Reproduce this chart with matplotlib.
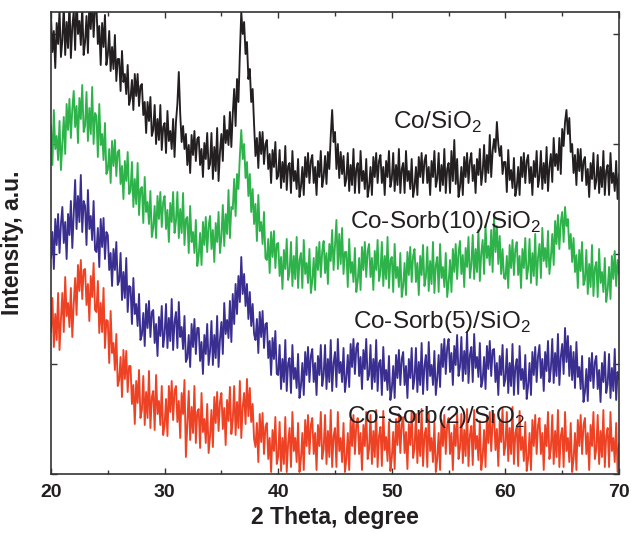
import matplotlib
matplotlib.use("Agg")
import matplotlib.pyplot as plt
import numpy as np

plt.rcParams['font.family'] = ['Liberation Sans', 'DejaVu Sans']
plt.rcParams['mathtext.fontset'] = 'custom'
plt.rcParams['mathtext.rm'] = 'Liberation Sans'

# 2 theta grid, 0.125 degree steps from 20 to 70 (8 readings per degree)
two_theta = np.arange(20, 70.001, 0.125)

# intensities (arbitrary units, stacked offsets), one row per degree
co_sio2 = [
    458, 422, 443, 406, 451, 430, 464, 417,  # 20
    434, 468, 419, 452, 426, 473, 416, 447,
    463, 424, 479, 440, 453, 429, 468, 419,
    432, 458, 421, 471, 445, 476, 437, 466,
    468, 430, 448, 409, 451, 427, 459, 409,
    419, 443, 403, 427, 405, 439, 393, 415,  # 25
    415, 383, 423, 392, 400, 380, 409, 369,
    376, 394, 364, 400, 378, 400, 368, 388,
    390, 359, 372, 341, 372, 353, 377, 338,
    344, 369, 330, 355, 334, 369, 324, 347,
    351, 321, 363, 333, 343, 325, 355, 317,  # 30
    352, 370, 402, 360, 332, 348, 325, 340,
    309, 329, 301, 339, 319, 343, 313, 335,
    337, 309, 325, 297, 331, 315, 341, 305,
    310, 341, 295, 327, 303, 346, 293, 322,
    340, 313, 358, 331, 344, 329, 362, 327,  # 35
    360, 385, 348, 395, 372, 420, 462, 440,
    452, 420, 432, 395, 405, 372, 385, 350,
    318, 336, 306, 342, 320, 342, 310, 330,
    334, 305, 320, 291, 324, 307, 332, 295,
    298, 324, 286, 312, 292, 328, 284, 308,  # 40
    311, 281, 323, 293, 303, 285, 315, 277,
    287, 307, 279, 317, 297, 321, 291, 313,
    319, 291, 307, 279, 313, 297, 323, 287,
    297, 318, 290, 322, 305, 338, 364, 332,
    342, 305, 330, 296, 322, 300, 318, 288,  # 45
    295, 321, 283, 309, 289, 325, 281, 305,
    311, 281, 323, 293, 303, 285, 315, 277,
    287, 307, 279, 317, 297, 321, 291, 313,
    319, 291, 307, 279, 313, 297, 323, 287,
    295, 321, 283, 309, 289, 325, 281, 305,  # 50
    311, 281, 323, 293, 303, 285, 315, 277,
    287, 307, 279, 317, 297, 321, 291, 313,
    319, 291, 307, 279, 313, 297, 323, 287,
    295, 321, 283, 309, 289, 325, 281, 305,
    311, 281, 323, 293, 334, 290, 315, 277,  # 55
    287, 307, 279, 317, 297, 321, 291, 313,
    321, 293, 309, 281, 315, 299, 325, 289,
    302, 329, 292, 319, 301, 339, 297, 323,
    335, 322, 352, 330, 318, 328, 300, 312,
    312, 282, 324, 294, 304, 286, 316, 278,  # 60
    287, 307, 279, 317, 297, 321, 291, 313,
    319, 291, 307, 279, 313, 297, 323, 287,
    297, 323, 285, 311, 291, 327, 283, 307,
    320, 292, 336, 308, 320, 304, 336, 300,
    345, 328, 352, 364, 340, 356, 322, 330,  # 65
    301, 319, 289, 325, 303, 325, 293, 313,
    317, 289, 305, 277, 311, 295, 321, 285,
    293, 319, 281, 307, 287, 323, 279, 303,
    309, 279, 321, 291, 301, 283, 313, 275,
    300,                                     # 70
]
co_sorb10 = [
    348, 309, 364, 325, 338, 314, 353, 304,  # 20
    331, 357, 320, 370, 344, 375, 336, 365,
    383, 347, 368, 331, 376, 355, 389, 342,
    348, 382, 333, 366, 340, 387, 330, 361,
    358, 317, 370, 329, 340, 314, 351, 300,
    304, 325, 291, 333, 308, 334, 298, 322,  # 25
    324, 290, 308, 275, 313, 293, 322, 280,
    283, 312, 267, 295, 270, 311, 259, 285,
    287, 251, 297, 262, 272, 250, 283, 237,
    246, 268, 236, 278, 255, 282, 247, 272,
    278, 245, 264, 232, 271, 252, 282, 241,  # 30
    253, 282, 236, 265, 241, 281, 229, 255,
    257, 221, 268, 232, 242, 221, 254, 208,
    218, 241, 209, 252, 229, 257, 222, 248,
    258, 225, 244, 212, 251, 232, 262, 221,
    237, 269, 228, 260, 240, 284, 236, 267,  # 35
    265, 295, 258, 300, 285, 318, 344, 315,
    330, 296, 312, 278, 300, 262, 285, 250,
    270, 233, 279, 243, 252, 230, 262, 216,
    214, 235, 201, 242, 217, 243, 206, 230,
    231, 198, 217, 185, 224, 205, 235, 194,  # 40
    202, 232, 188, 218, 195, 237, 186, 214,
    221, 186, 234, 200, 211, 191, 225, 181,
    193, 216, 184, 227, 204, 232, 197, 223,
    233, 201, 221, 190, 230, 213, 244, 204,
    229, 254, 205, 240, 210, 246, 200, 222,  # 45
    222, 187, 235, 201, 212, 192, 226, 182,
    193, 216, 184, 227, 204, 232, 197, 223,
    230, 197, 216, 184, 223, 204, 234, 193,
    202, 232, 188, 218, 195, 237, 186, 214,
    217, 182, 230, 196, 207, 187, 221, 177,  # 50
    188, 211, 179, 222, 199, 227, 192, 218,
    225, 192, 211, 179, 218, 199, 229, 188,
    197, 227, 183, 213, 190, 232, 181, 209,
    217, 182, 230, 196, 207, 187, 221, 177,
    191, 214, 182, 225, 202, 230, 195, 221,  # 55
    233, 200, 219, 187, 226, 207, 237, 196,
    209, 239, 195, 225, 202, 244, 193, 221,
    234, 200, 249, 216, 228, 209, 244, 202,
    257, 222, 248, 210, 238, 200, 225, 196,
    195, 218, 186, 229, 206, 234, 199, 225,  # 60
    232, 199, 218, 186, 225, 206, 236, 195,
    205, 235, 191, 221, 198, 240, 189, 217,
    230, 196, 246, 213, 226, 207, 243, 200,
    216, 240, 209, 253, 230, 259, 225, 252,
    262, 232, 267, 248, 255, 225, 240, 212,  # 65
    236, 202, 219, 186, 224, 203, 232, 189,
    194, 224, 180, 210, 187, 229, 178, 206,
    212, 177, 225, 191, 202, 182, 216, 172,
    184, 207, 175, 218, 195, 223, 188, 214,
    200,                                     # 70
]
co_sorb5 = [
    216, 242, 205, 255, 229, 260, 221, 250,  # 20
    267, 231, 252, 215, 260, 239, 273, 226,
    260, 294, 245, 278, 252, 299, 242, 273,
    268, 229, 284, 245, 258, 234, 273, 224,
    222, 246, 207, 255, 227, 256, 215, 242,
    239, 204, 221, 188, 225, 204, 232, 189,  # 25
    193, 221, 174, 202, 176, 216, 162, 188,
    187, 150, 196, 160, 170, 148, 180, 134,
    139, 161, 128, 170, 146, 173, 137, 162,
    164, 131, 150, 118, 157, 138, 168, 127,
    140, 170, 126, 156, 133, 175, 124, 152,  # 30
    162, 126, 172, 137, 147, 125, 158, 112,
    116, 139, 107, 150, 127, 155, 120, 146,
    146, 113, 132, 100, 139, 120, 150, 109,
    123, 153, 109, 139, 116, 158, 107, 135,
    152, 120, 171, 140, 154, 136, 173, 132,  # 35
    180, 150, 190, 160, 198, 172, 217, 180,
    200, 168, 190, 155, 182, 148, 170, 140,
    134, 155, 121, 162, 137, 163, 126, 150,
    151, 116, 133, 99, 136, 115, 143, 100,
    99, 129, 85, 115, 92, 134, 83, 111,      # 40
    116, 81, 129, 95, 106, 86, 120, 76,
    88, 111, 79, 122, 99, 127, 92, 118,
    125, 92, 111, 79, 118, 99, 129, 88,
    99, 129, 85, 115, 92, 134, 83, 111,
    122, 87, 135, 101, 112, 92, 126, 82,     # 45
    96, 119, 87, 130, 107, 135, 100, 126,
    131, 98, 117, 85, 124, 105, 135, 94,
    99, 129, 85, 115, 92, 134, 83, 111,
    114, 79, 127, 93, 104, 84, 118, 74,
    85, 108, 76, 119, 96, 124, 89, 115,      # 50
    122, 89, 108, 76, 115, 96, 126, 85,
    96, 126, 82, 112, 89, 131, 80, 108,
    119, 84, 132, 98, 109, 89, 123, 79,
    96, 119, 87, 130, 107, 135, 100, 126,
    135, 102, 121, 89, 128, 109, 139, 98,    # 55
    107, 137, 93, 123, 100, 142, 91, 119,
    127, 92, 140, 106, 117, 97, 131, 87,
    94, 117, 85, 128, 105, 133, 98, 124,
    125, 92, 111, 79, 118, 99, 129, 88,
    95, 125, 81, 111, 88, 130, 79, 107,      # 60
    115, 80, 128, 94, 105, 85, 119, 75,
    88, 111, 79, 122, 99, 127, 92, 118,
    129, 96, 115, 83, 122, 103, 133, 92,
    105, 135, 91, 121, 98, 140, 89, 117,
    130, 100, 146, 112, 138, 98, 128, 94,    # 65
    122, 86, 132, 97, 107, 85, 118, 72,
    82, 105, 73, 116, 93, 121, 86, 112,
    118, 85, 104, 72, 111, 92, 122, 81,
    90, 120, 76, 106, 83, 125, 74, 102,
    95,                                      # 70
]
co_sorb2 = [
    142, 176, 127, 160, 134, 181, 124, 155,  # 20
    181, 142, 197, 158, 171, 147, 186, 137,
    170, 196, 159, 209, 183, 214, 175, 204,
    205, 169, 190, 153, 198, 177, 211, 164,
    162, 193, 141, 171, 142, 186, 126, 154,
    153, 111, 163, 121, 131, 104, 140, 88,   # 25
    94, 117, 77, 124, 95, 123, 82, 108,
    108, 70, 89, 50, 93, 71, 104, 56,
    64, 98, 49, 82, 56, 103, 46, 77,
    83, 44, 99, 60, 73, 49, 88, 39,
    49, 75, 38, 88, 62, 93, 54, 83,          # 30
    88, 52, 73, 36, 81, 60, 94, 17,
    49, 83, 34, 67, 41, 88, 31, 62,
    65, 26, 81, 42, 55, 31, 70, 21,
    38, 64, 27, 77, 51, 82, 43, 72,
    81, 45, 66, 29, 74, 53, 87, 40,          # 35
    54, 88, 39, 72, 46, 93, 36, 67,
    81, 50, 95, 58, 86, 52, 70, 35,
    27, 51, 12, 60, 32, 61, 20, 47,
    51, 15, 36, 2, 44, 23, 57, 10,
    18, 52, 3, 36, 10, 57, 2, 31,            # 40
    46, 7, 62, 23, 36, 12, 51, 2,
    15, 41, 4, 54, 28, 59, 20, 49,
    56, 20, 41, 4, 49, 28, 62, 15,
    25, 59, 10, 43, 17, 64, 7, 38,
    46, 7, 62, 23, 36, 12, 51, 2,            # 45
    15, 41, 4, 54, 28, 59, 20, 49,
    56, 20, 41, 4, 49, 28, 62, 15,
    25, 59, 10, 43, 17, 64, 7, 38,
    47, 8, 63, 24, 37, 13, 52, 3,
    16, 42, 5, 55, 29, 60, 21, 50,           # 50
    57, 21, 42, 5, 50, 29, 63, 16,
    26, 60, 11, 44, 18, 65, 8, 39,
    46, 7, 62, 23, 36, 12, 51, 2,
    15, 41, 4, 54, 28, 59, 20, 49,
    56, 20, 41, 4, 49, 28, 62, 15,           # 55
    26, 60, 11, 44, 18, 65, 8, 39,
    48, 9, 64, 25, 38, 14, 53, 4,
    18, 44, 7, 57, 31, 62, 23, 52,
    60, 24, 45, 8, 53, 32, 66, 19,
    28, 62, 13, 46, 20, 67, 10, 41,          # 60
    47, 8, 63, 24, 37, 13, 52, 3,
    15, 41, 4, 54, 28, 59, 20, 49,
    56, 20, 41, 4, 49, 28, 62, 15,
    25, 59, 10, 43, 17, 64, 7, 38,
    46, 7, 62, 23, 36, 12, 51, 2,            # 65
    15, 41, 4, 54, 28, 59, 20, 49,
    56, 20, 41, 4, 49, 28, 62, 15,
    25, 59, 10, 43, 17, 64, 7, 38,
    46, 7, 62, 23, 36, 12, 51, 2,
    30,                                      # 70
]

labels = ["Co/SiO$_\\mathregular{2}$", "Co-Sorb(10)/SiO$_\\mathregular{2}$",
          "Co-Sorb(5)/SiO$_\\mathregular{2}$", "Co-Sorb(2)/SiO$_\\mathregular{2}$"]
colors = ["#231f20", "#2eb34b", "#3a2f90", "#ee4224"]
# label anchor (2 theta, intensity) for each trace name
label_x = [50.1, 46.3, 46.6, 46.1]
label_y = [345, 246, 146, 51]

fig = plt.figure(figsize=(6.31, 5.34), dpi=100)
ax = fig.add_axes([51 / 631, 1 - 474 / 534, 568 / 631, 462 / 534])

for vals, col in zip([co_sio2, co_sorb10, co_sorb5, co_sorb2], colors):
    ax.plot(two_theta, vals, color=col, lw=1.35)

for lab, tx, ty in zip(labels, label_x, label_y):
    ax.text(tx, ty, lab, fontsize=17.5, color="#231f20", va="baseline", ha="left")

ax.set_xlim(20, 70)
ax.set_ylim(0, 462)
ax.set_xticks([20, 30, 40, 50, 60, 70])
ax.set_xticks([25, 35, 45, 55, 65], minor=True)
ax.set_yticks([0, 110, 220, 330, 440])
ax.set_yticklabels([])
ax.tick_params(axis="both", which="both", direction="in", top=True, right=True,
               color="#333333")
ax.tick_params(axis="both", which="major", length=4, width=1)
ax.tick_params(axis="x", which="minor", length=3, width=1)
ax.tick_params(axis="x", labelsize=14, pad=7, labelcolor="#231f20")
for lbl in ax.get_xticklabels():
    lbl.set_fontweight("bold")
for sp in ax.spines.values():
    sp.set_color("#333333")
    sp.set_linewidth(1.2)

ax.set_xlabel("2 Theta, degree", fontsize=16.5, fontweight="bold", labelpad=4,
              color="#231f20")
ax.set_ylabel("Intensity, a.u.", fontsize=16.5, fontweight="bold", labelpad=16,
              color="#231f20")

fig.savefig("out.png", dpi=100)
